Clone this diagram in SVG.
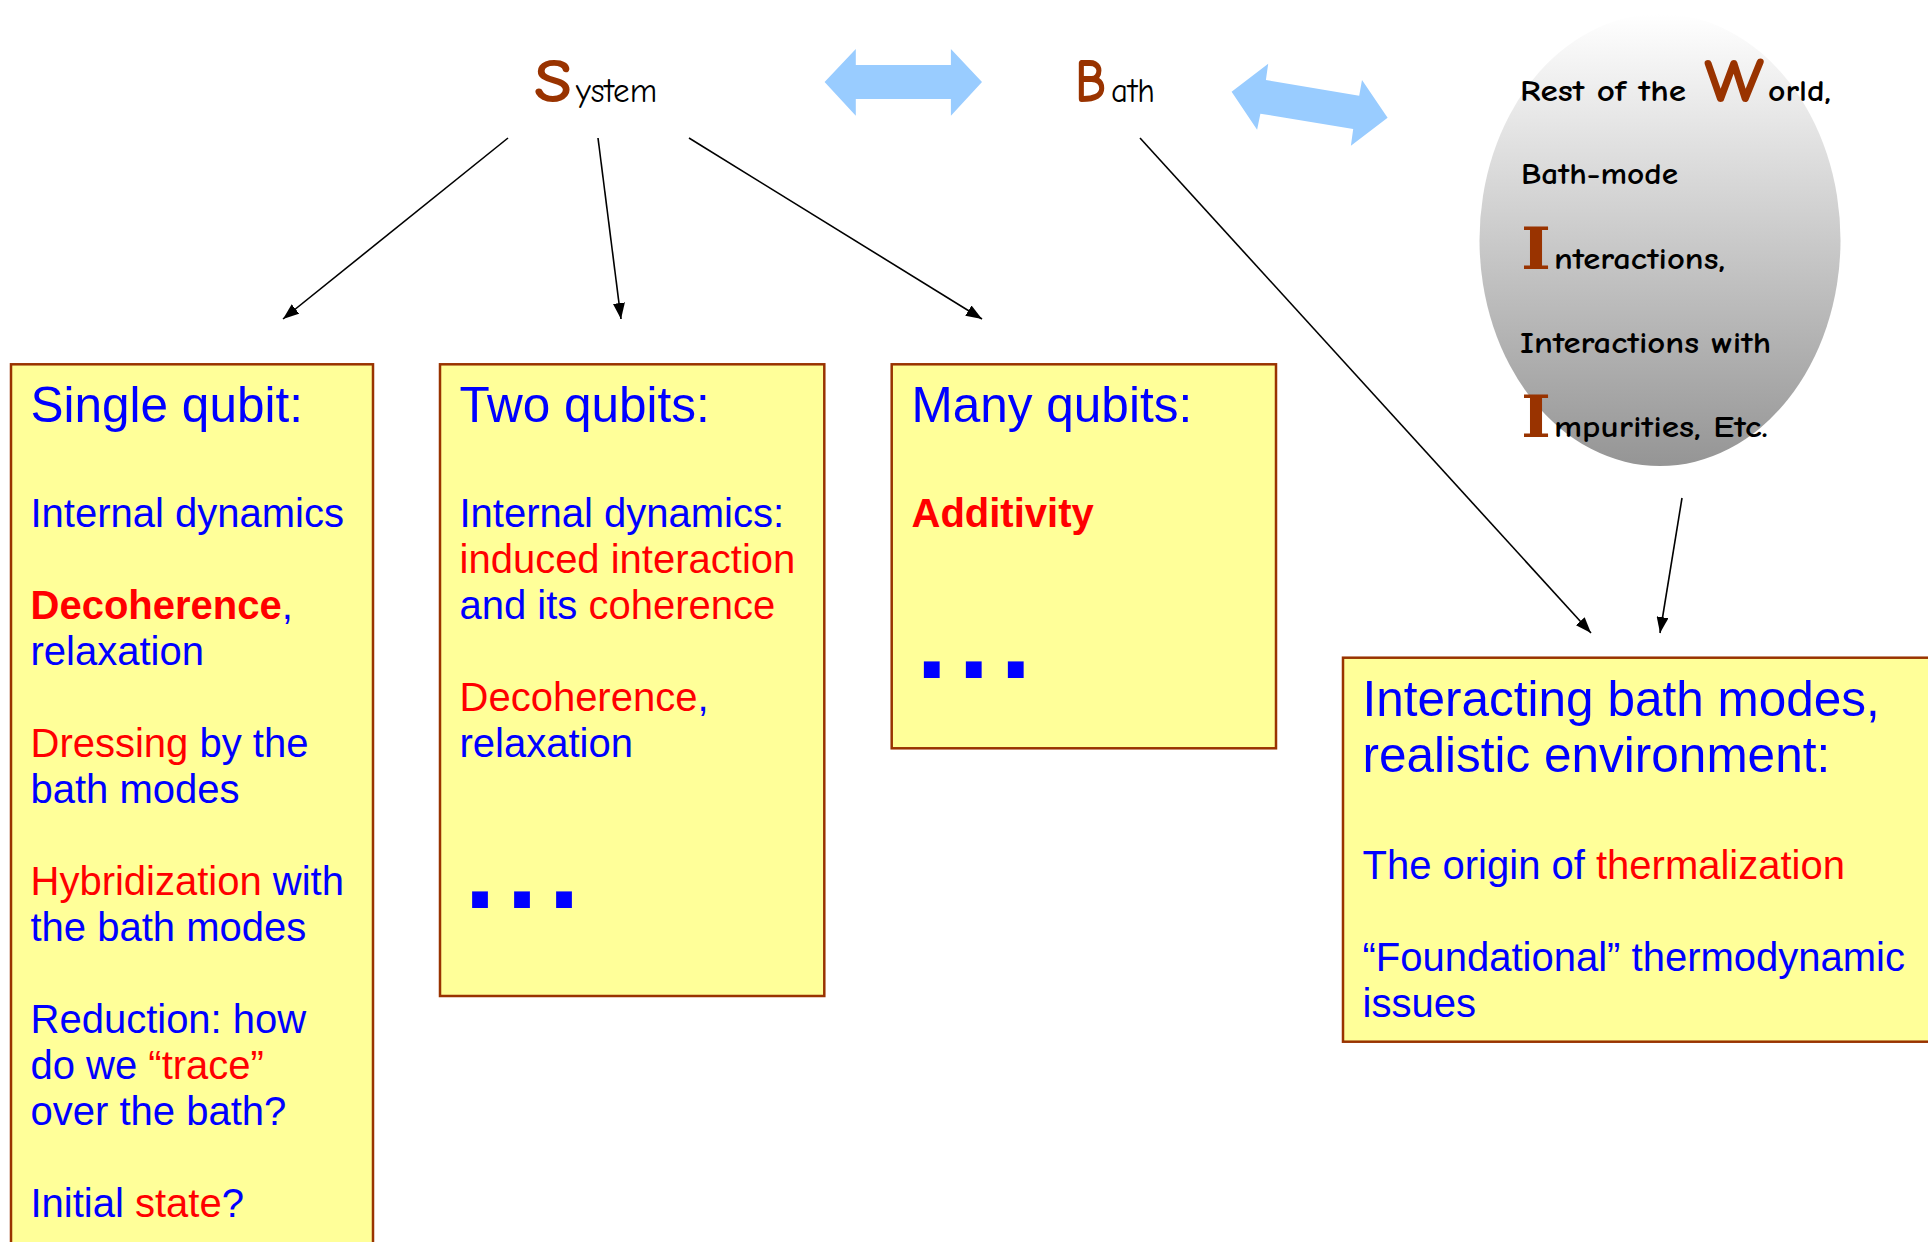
<svg xmlns="http://www.w3.org/2000/svg" width="1928" height="1242" viewBox="0 0 1928 1242">
<defs>
<linearGradient id="gray" x1="0" y1="0" x2="0" y2="1">
<stop offset="0" stop-color="#ffffff"/>
<stop offset="1" stop-color="#959595"/>
</linearGradient>
<marker id="ah" viewBox="0 0 16 12" refX="16" refY="6" markerWidth="16" markerHeight="12" markerUnits="userSpaceOnUse" orient="auto">
<path d="M0,0 L16,6 L0,12 Z" fill="#000"/>
</marker>
<style>
.box{fill:#FFFF99;stroke:#993300;stroke-width:2.5}
.t{font-family:"Liberation Sans",Arial,sans-serif;fill:#0000FF}
.h{font-size:49.5px}
.b{font-size:40px}
.r{fill:#FF0000}
.bd{font-weight:bold}
.dots{font-family:"Liberation Sans",Arial,sans-serif;font-weight:bold;font-size:112px;letter-spacing:10.8px;fill:#0000FF}
.c{font-family:"Comic Sans MS","Comic Neue","DejaVu Sans",sans-serif;fill:#000}
.cb{font-family:"Comic Sans MS","Comic Neue","DejaVu Sans",sans-serif;font-weight:bold;fill:#000;font-size:31px}
.big{font-family:"Comic Sans MS","Comic Neue","DejaVu Sans",sans-serif;font-weight:bold;fill:#993300;font-size:62px}
.bigI{font-family:"Comic Sans MS","DejaVu Serif",serif;font-weight:bold;fill:#993300;font-size:58px}
.conn{stroke:#000;stroke-width:1.6;fill:none;marker-end:url(#ah)}
.dbl{fill:#99CCFF}
</style>
</defs>

<g id="system">
<text class="big" x="534" y="102" textLength="38" lengthAdjust="spacingAndGlyphs">S</text>
<text class="c" x="576" y="102" font-size="34" textLength="81" lengthAdjust="spacingAndGlyphs">ystem</text>
</g>

<g id="bath">
<text class="big" x="1075" y="102" textLength="31" lengthAdjust="spacingAndGlyphs">B</text>
<text class="c" x="1111" y="102" font-size="34" textLength="44" lengthAdjust="spacingAndGlyphs">ath</text>
</g>

<g id="world">
<ellipse cx="1660" cy="240" rx="180.5" ry="226" fill="url(#gray)"/>
<text class="cb" x="1520" y="101" textLength="166" lengthAdjust="spacingAndGlyphs">Rest of the</text>
<text class="big" x="1704" y="102" textLength="60" lengthAdjust="spacingAndGlyphs">W</text>
<text class="cb" x="1768" y="101" textLength="63" lengthAdjust="spacingAndGlyphs">orld,</text>
<text class="cb" x="1521" y="184" textLength="157" lengthAdjust="spacingAndGlyphs">Bath-mode</text>
<text class="bigI" x="1521" y="269" textLength="30" lengthAdjust="spacingAndGlyphs">I</text>
<text class="cb" x="1554" y="269" textLength="171" lengthAdjust="spacingAndGlyphs">nteractions,</text>
<text class="cb" x="1520" y="353" textLength="251" lengthAdjust="spacingAndGlyphs">Interactions with</text>
<text class="bigI" x="1521" y="437" textLength="30" lengthAdjust="spacingAndGlyphs">I</text>
<text class="cb" x="1554" y="437" textLength="214" lengthAdjust="spacingAndGlyphs">mpurities, Etc.</text>
</g>

<g id="coupling-arrows">
<path class="dbl" d="M824.6,82 L855.8,49 L855.8,65 L950.9,65 L950.9,49 L982,82 L950.9,115.7 L950.9,99 L855.8,99 L855.8,115.7 Z"/>
<path class="dbl" d="M1231.6,91.7 L1268.2,63.7 L1265.9,80 L1359.2,95.7 L1362,80 L1387.6,117.7 L1350.9,145.7 L1353.2,129 L1260.4,113.7 L1257.1,129.7 Z"/>
</g>

<g id="single-qubit">
<rect class="box" x="11" y="364.3" width="362" height="900"/>
<text class="t h" x="30.5" y="421.7">Single qubit:</text>
<text class="t b" x="30.5" y="526.7">Internal dynamics</text>
<text class="t b" x="30.5" y="618.7"><tspan class="r bd">Decoherence</tspan>,</text>
<text class="t b" x="30.5" y="664.7">relaxation</text>
<text class="t b" x="30.5" y="756.7"><tspan class="r">Dressing</tspan> by the</text>
<text class="t b" x="30.5" y="802.7">bath modes</text>
<text class="t b" x="30.5" y="894.7"><tspan class="r">Hybridization</tspan> with</text>
<text class="t b" x="30.5" y="940.7">the bath modes</text>
<text class="t b" x="30.5" y="1032.7">Reduction: how</text>
<text class="t b" x="30.5" y="1078.7">do we <tspan class="r">“trace”</tspan></text>
<text class="t b" x="30.5" y="1124.7">over the bath?</text>
<text class="t b" x="30.5" y="1216.7">Initial <tspan class="r">state</tspan>?</text>
</g>

<g id="two-qubits">
<rect class="box" x="440" y="364.3" width="384.3" height="631.7"/>
<text class="t h" x="459.5" y="421.7">Two qubits:</text>
<text class="t b" x="459.5" y="526.7">Internal dynamics:</text>
<text class="t b r" x="459.5" y="572.7">induced interaction</text>
<text class="t b" x="459.5" y="618.7">and its <tspan class="r">coherence</tspan></text>
<text class="t b" x="459.5" y="710.7"><tspan class="r">Decoherence</tspan>,</text>
<text class="t b" x="459.5" y="756.7">relaxation</text>
<text class="dots" x="464.6" y="907.5">...</text>
</g>

<g id="many-qubits">
<rect class="box" x="891.7" y="364.3" width="384.3" height="384"/>
<text class="t h" x="911.5" y="421.7">Many qubits:</text>
<text class="t b r bd" x="911.5" y="526.7">Additivity</text>
<text class="dots" x="916.3" y="677.7">...</text>
</g>

<g id="environment">
<rect class="box" x="1343" y="657.7" width="620" height="384"/>
<text class="t h" x="1362.5" y="715.6">Interacting bath modes,</text>
<text class="t h" x="1362.5" y="771.6">realistic environment:</text>
<text class="t b" x="1362.5" y="879">The origin of <tspan class="r">thermalization</tspan></text>
<text class="t b" x="1362.5" y="971">“Foundational” thermodynamic</text>
<text class="t b" x="1362.5" y="1017">issues</text>
</g>

<g id="connectors">
<line class="conn" x1="508" y1="138" x2="283" y2="319"/>
<line class="conn" x1="598" y1="138" x2="621" y2="319"/>
<line class="conn" x1="689" y1="138" x2="982" y2="319"/>
<line class="conn" x1="1140" y1="138" x2="1591" y2="633"/>
<line class="conn" x1="1682" y1="498" x2="1660" y2="633"/>
</g>
</svg>
